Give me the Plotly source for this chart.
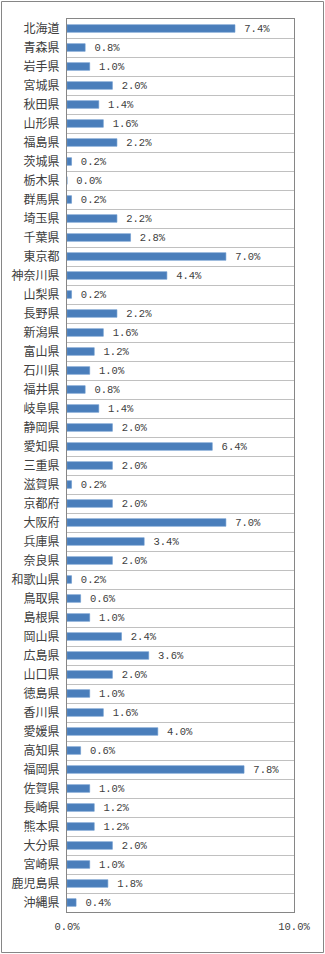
import plotly.graph_objects as go

prefectures = ["北海道","青森県","岩手県","宮城県","秋田県","山形県","福島県","茨城県","栃木県","群馬県",
               "埼玉県","千葉県","東京都","神奈川県","山梨県","長野県","新潟県","富山県","石川県","福井県",
               "岐阜県","静岡県","愛知県","三重県","滋賀県","京都府","大阪府","兵庫県","奈良県","和歌山県",
               "鳥取県","島根県","岡山県","広島県","山口県","徳島県","香川県","愛媛県","高知県","福岡県",
               "佐賀県","長崎県","熊本県","大分県","宮崎県","鹿児島県","沖縄県"]
shares = [7.4,0.8,1.0,2.0,1.4,1.6,2.2,0.2,0.0,0.2,
          2.2,2.8,7.0,4.4,0.2,2.2,1.6,1.2,1.0,0.8,
          1.4,2.0,6.4,2.0,0.2,2.0,7.0,3.4,2.0,0.2,
          0.6,1.0,2.4,3.6,2.0,1.0,1.6,4.0,0.6,7.8,
          1.0,1.2,1.2,2.0,1.0,1.8,0.4]
x_ticks = [0, 10]
x_tick_labels = ["0.0%", "10.0%"]

W, H = 325, 954
ml, mr, mt, mb = 67, 31, 19, 42
pw, ph = W - ml - mr, H - mt - mb

fig = go.Figure(go.Bar(
    x=shares, y=prefectures, orientation="h",
    marker=dict(color="#4A7EBB", line=dict(color="#6A98CF", width=0.6)),
    text=["\u00a0%.1f%%" % v for v in shares],
    textposition="outside", cliponaxis=False, constraintext="none",
    textfont=dict(family="Liberation Mono", size=10.5, color="#404040"),
))

fig.update_layout(
    width=W, height=H,
    margin=dict(l=ml, r=mr, t=mt, b=mb),
    paper_bgcolor="white", plot_bgcolor="white",
    bargap=0.6, showlegend=False,
    xaxis=dict(range=[0, 10], tickvals=x_ticks, ticktext=x_tick_labels,
               showgrid=False, zeroline=False, showline=True, mirror=True,
               linecolor="#868686", linewidth=1, ticks="", ticklabelstandoff=4,
               tickfont=dict(family="Liberation Mono", size=10.5, color="#404040")),
    yaxis=dict(categoryorder="array", categoryarray=prefectures, autorange="reversed",
               tickson="boundaries", showgrid=True, gridcolor="#C0C0C0", gridwidth=1,
               showline=True, mirror=True, linecolor="#868686", linewidth=1, ticks="",
               ticklabelstandoff=4,
               tickfont=dict(family="Noto Sans CJK JP", size=12, color="#404040")),
    shapes=[dict(type="rect", xref="paper", yref="paper",
                 x0=(1.5 - ml) / pw, x1=(W - 1.5 - ml) / pw,
                 y0=-(H - 1.5 - mt - ph) / ph, y1=1 + (mt - 1.5) / ph,
                 line=dict(color="#868686", width=1), layer="below")],
)

fig.write_html("out.html")
